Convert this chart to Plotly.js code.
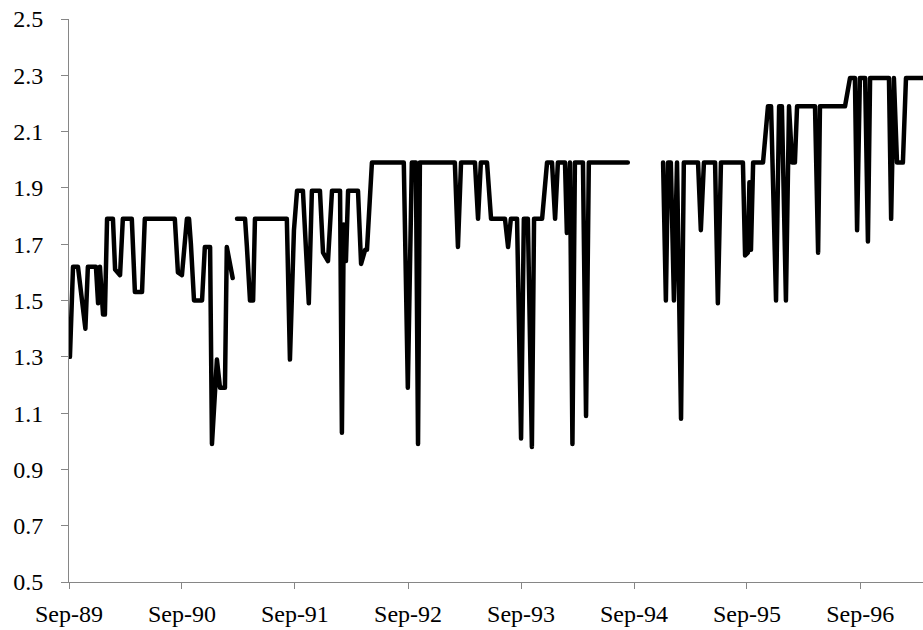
<!DOCTYPE html>
<html>
<head>
<meta charset="utf-8">
<script src="https://cdn.plot.ly/plotly-3.0.1.min.js"></script>
<style>
html, body { margin: 0; padding: 0; background: #fff; }
#chart { width: 923px; height: 630px; }
path.js-line { stroke-linejoin: round !important; stroke-linecap: round !important; }
</style>
</head>
<body>
<div id="chart"></div>
<script>
var dates = [
  '1989-09-04','1989-09-14','1989-09-30','1989-10-24','1989-11-01','1989-11-27','1989-12-04','1989-12-10','1989-12-20','1989-12-26',
  '1990-01-02','1990-01-21','1990-01-28','1990-02-13','1990-02-22','1990-03-23','1990-04-02','1990-04-25','1990-05-04','1990-08-09',
  '1990-08-19','1990-09-01','1990-09-17','1990-09-24','1990-09-30','1990-10-10','1990-11-05','1990-11-14','1990-12-01','1990-12-07',
  '1990-12-23','1991-01-02','1991-01-18','1991-01-24','1991-02-12','1991-02-19',
  '1991-02-26','1991-03-24','1991-03-30','1991-04-09','1991-04-19','1991-04-25','1991-08-06','1991-08-16','1991-08-29','1991-09-08',
  '1991-09-27','1991-10-16','1991-10-26','1991-11-21','1991-12-01','1991-12-17','1991-12-30','1992-01-25','1992-01-31','1992-02-06',
  '1992-02-13','1992-02-20','1992-03-23','1992-04-02','1992-04-15','1992-04-21','1992-05-07','1992-08-18','1992-08-31','1992-09-13',
  '1992-09-26','1992-10-03','1992-10-09','1993-01-30','1993-02-09','1993-02-19','1993-04-05','1993-04-15','1993-04-24','1993-05-14',
  '1993-05-27','1993-07-11','1993-07-21','1993-07-30','1993-08-19','1993-09-01','1993-09-10','1993-09-23','1993-10-06','1993-10-13',
  '1993-11-08','1993-11-24','1993-12-10','1993-12-20','1993-12-29','1994-01-21','1994-01-27','1994-02-06','1994-02-14','1994-02-22',
  '1994-03-20','1994-03-30','1994-04-08','1994-08-12','1994-10-15',
  '1994-12-04','1994-12-13','1994-12-20','1994-12-29','1995-01-08','1995-01-18','1995-01-31','1995-02-09','1995-03-27','1995-04-05',
  '1995-04-15','1995-05-21','1995-05-30','1995-06-09','1995-08-19','1995-08-26','1995-09-04','1995-09-09','1995-09-14','1995-09-21',
  '1995-10-23','1995-11-08','1995-11-18','1995-12-04','1995-12-14','1995-12-23','1996-01-05','1996-01-15','1996-01-25','1996-02-03',
  '1996-02-10','1996-04-08','1996-04-18','1996-04-24','1996-07-14','1996-07-30','1996-08-15','1996-08-22','1996-08-31','1996-09-17',
  '1996-09-26','1996-10-03','1996-12-03','1996-12-10','1996-12-19','1996-12-29','1997-01-17','1997-01-27','1997-03-23'
];
var prices = [
  1.30,1.62,1.62,1.40,1.62,1.62,1.49,1.62,1.45,1.45,
  1.79,1.79,1.61,1.59,1.79,1.79,1.53,1.53,1.79,1.79,
  1.60,1.59,1.79,1.79,1.70,1.50,1.50,1.69,1.69,0.99,
  1.29,1.19,1.19,1.69,1.58,null,
  1.79,1.79,1.69,1.50,1.50,1.79,1.79,1.29,1.75,1.89,
  1.89,1.49,1.89,1.89,1.67,1.64,1.89,1.89,1.03,1.77,
  1.64,1.89,1.89,1.63,1.68,1.68,1.99,1.99,1.19,1.99,
  1.99,0.99,1.99,1.99,1.69,1.99,1.99,1.79,1.99,1.99,
  1.79,1.79,1.69,1.79,1.79,1.01,1.79,1.79,0.98,1.79,
  1.79,1.99,1.99,1.79,1.99,1.99,1.74,1.99,0.99,1.99,
  1.99,1.09,1.99,1.99,null,
  1.99,1.50,1.99,1.99,1.50,1.99,1.08,1.99,1.99,1.75,
  1.99,1.99,1.49,1.99,1.99,1.66,1.67,1.92,1.68,1.99,
  1.99,2.19,2.19,1.50,2.19,2.19,1.50,2.19,1.99,1.99,
  2.19,2.19,1.67,2.19,2.19,2.29,2.29,1.75,2.29,2.29,
  1.71,2.29,2.29,1.79,2.29,1.99,1.99,2.29,2.29
];
var xRange = ['1989-09-01', '1997-03-23'];
var yRange = [0.5, 2.5];

var axisColor = '#868686';
var fontFamily = '"Liberation Serif", "Times New Roman", serif';

var trace = {
  x: dates,
  y: prices,
  type: 'scatter',
  mode: 'lines',
  connectgaps: false,
  line: { color: '#000000', width: 4.5, simplify: false },
  hoverinfo: 'skip'
};

var layout = {
  width: 923,
  height: 630,
  margin: { l: 69, r: 0, t: 19, b: 48, pad: 0 },
  paper_bgcolor: '#ffffff',
  plot_bgcolor: '#ffffff',
  showlegend: false,
  font: { family: fontFamily, size: 24, color: '#000000' },
  xaxis: {
    type: 'date',
    range: xRange,
    tick0: '1989-09-01',
    dtick: 'M12',
    tickformat: '%b-%y',
    showgrid: false,
    zeroline: false,
    showline: true,
    linecolor: axisColor,
    linewidth: 1,
    ticks: 'outside',
    ticklen: 6,
    tickwidth: 1,
    tickcolor: axisColor,
    ticklabelstandoff: 4,
    tickfont: { family: fontFamily, size: 24, color: '#000000' }
  },
  yaxis: {
    range: yRange,
    tick0: 0.5,
    dtick: 0.2,
    tickformat: '.1f',
    showgrid: false,
    zeroline: false,
    showline: true,
    linecolor: axisColor,
    linewidth: 1,
    ticks: 'outside',
    ticklen: 7,
    tickwidth: 1,
    tickcolor: axisColor,
    ticklabelstandoff: 13,
    tickfont: { family: fontFamily, size: 24, color: '#000000' }
  }
};

Plotly.newPlot('chart', [trace], layout, { staticPlot: true, displayModeBar: false });
</script>
</body>
</html>
